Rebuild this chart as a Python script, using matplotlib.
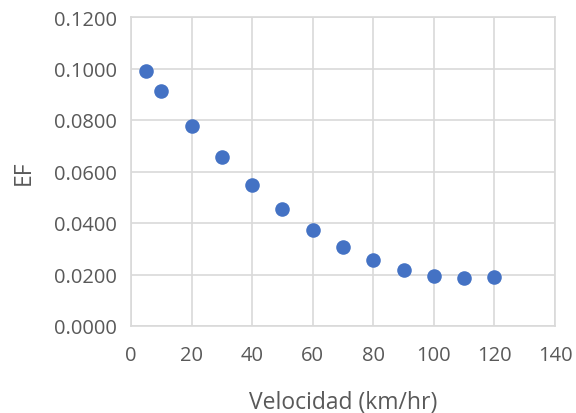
import matplotlib.pyplot as plt

# velocity vs emission factor
velocidad = [5, 10, 20, 30, 40, 50, 60, 70, 80, 90, 100, 110, 120]
ef = [0.0990, 0.0913, 0.0777, 0.0656, 0.0548, 0.0454, 0.0373,
      0.0307, 0.0256, 0.0217, 0.0194, 0.0186, 0.0190]

x_ticks = [0, 20, 40, 60, 80, 100, 120, 140]
y_ticks = [0.0, 0.02, 0.04, 0.06, 0.08, 0.10, 0.12]

plt.rcParams['font.family'] = ['Open Sans', 'DejaVu Sans']

fig = plt.figure(figsize=(5.76, 4.14), dpi=100)
ax = fig.add_axes([131 / 576, 1 - 327 / 414, (555 - 131) / 576, (327 - 18) / 414])

ax.scatter(velocidad, ef, s=110, color='#4472C4', zorder=3, linewidths=0)

ax.set_xlim(0, 140)
ax.set_ylim(0, 0.12)
ax.set_xticks(x_ticks)
ax.set_yticks(y_ticks)
ax.set_yticklabels([f"{v:.4f}" for v in y_ticks])

ax.grid(True, color='#D9D9D9', linewidth=1.2)
ax.set_axisbelow(True)
for s in ax.spines.values():
    s.set_color('#D9D9D9')
    s.set_linewidth(1.2)

ax.tick_params(length=0, labelsize=14.5, colors='#595959')
ax.tick_params(axis='x', pad=14)
ax.tick_params(axis='y', pad=10)
ax.set_xlabel("Velocidad (km/hr)", fontsize=16.5, color='#595959', labelpad=18)
ax.set_ylabel("EF", fontsize=16.5, color='#595959', labelpad=13)

fig.savefig("out.png", dpi=100)
